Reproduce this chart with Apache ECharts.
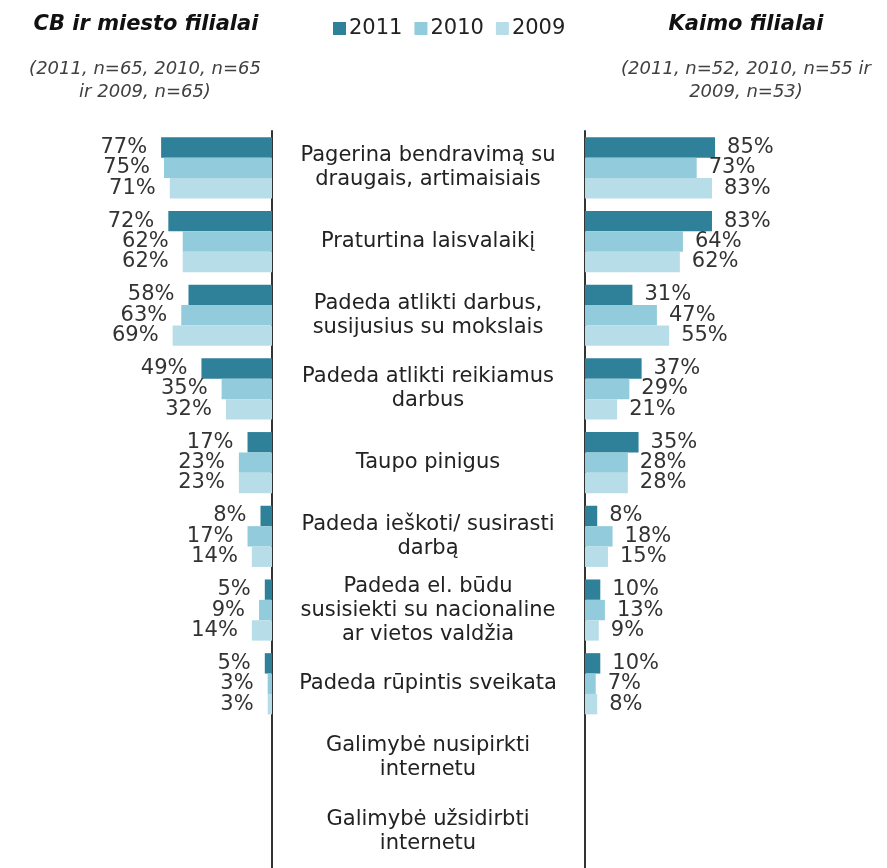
<!DOCTYPE html>
<html><head><meta charset="utf-8">
<script src="https://cdn.jsdelivr.net/npm/echarts@6/dist/echarts.min.js"></script>
<style>html,body{margin:0;padding:0;background:#fff}#c{width:887px;height:868px}</style>
</head><body><div id="c"></div>
<script>
const categories = [
  'Pagerina bendravimą su\ndraugais, artimaisiais',
  'Praturtina laisvalaikį',
  'Padeda atlikti darbus,\nsusijusius su mokslais',
  'Padeda atlikti reikiamus\ndarbus',
  'Taupo pinigus',
  'Padeda ieškoti/ susirasti\ndarbą',
  'Padeda el. būdu\nsusisiekti su nacionaline\nar vietos valdžia',
  'Padeda rūpintis sveikata',
  'Galimybė nusipirkti\ninternetu',
  'Galimybė užsidirbti\ninternetu'
];
const years = ['2011', '2010', '2009'];
const city2011 = [77, 72, 58, 49, 17, 8, 5, 5, null, null];
const city2010 = [75, 62, 63, 35, 23, 17, 9, 3, null, null];
const city2009 = [71, 62, 69, 32, 23, 14, 14, 3, null, null];
const rural2011 = [85, 83, 31, 37, 35, 8, 10, 10, null, null];
const rural2010 = [73, 64, 47, 29, 28, 18, 13, 7, null, null];
const rural2009 = [83, 62, 55, 21, 28, 15, 9, 8, null, null];
const colors = ['#2f8199', '#92cbdc', '#b7dee8'];

const FONT = 'DejaVu Sans';
const chart = echarts.init(document.getElementById('c'));
function barSeries(name, data, idx, color, left) {
  return {
    name: name, type: 'bar', data: data,
    xAxisIndex: idx, yAxisIndex: idx,
    barCategoryGap: '17%', barGap: '0%',
    itemStyle: { color: color },
    label: {
      show: true, position: left ? 'left' : 'right', distance: left ? 14 : 12,
      formatter: p => p.value == null ? '' : p.value + '%',
      fontFamily: FONT, fontSize: 21, color: '#333'
    },
    silent: true, animation: false
  };
}
const option = {
  animation: false,
  textStyle: { fontFamily: FONT },
  title: [
    { text: 'CB ir miesto filialai', left: 141, top: 9, textAlign: 'center',
      textStyle: { fontFamily: FONT, fontSize: 21, fontWeight: 'bold', fontStyle: 'italic', color: '#111' } },
    { text: '(2011, n=65, 2010, n=65\nir 2009, n=65)', left: 140, top: 53, textAlign: 'center',
      textStyle: { fontFamily: FONT, fontSize: 18, fontWeight: 'normal', fontStyle: 'italic', color: '#404040', lineHeight: 23 } },
    { text: 'Kaimo filialai', left: 741, top: 9, textAlign: 'center',
      textStyle: { fontFamily: FONT, fontSize: 21, fontWeight: 'bold', fontStyle: 'italic', color: '#111' } },
    { text: '(2011, n=52, 2010, n=55 ir\n2009, n=53)', left: 741, top: 53, textAlign: 'center',
      textStyle: { fontFamily: FONT, fontSize: 18, fontWeight: 'normal', fontStyle: 'italic', color: '#404040', lineHeight: 23 } }
  ],
  legend: {
    data: years, left: 328, top: 13, itemWidth: 13, itemHeight: 13, itemGap: 12,
    icon: 'rect', textStyle: { fontFamily: FONT, fontSize: 21, color: '#222', padding: [0,0,0,-2] }
  },
  grid: [
    { left: 128, width: 144, top: 131, height: 743 },
    { left: 585, width: 153, top: 131, height: 743 }
  ],
  xAxis: [
    { gridIndex: 0, type: 'value', min: 0, max: 100, inverse: true, show: false },
    { gridIndex: 1, type: 'value', min: 0, max: 100, show: false }
  ],
  yAxis: [
    { gridIndex: 0, type: 'category', data: categories, inverse: true, position: 'right',
      axisLine: { show: true, lineStyle: { color: '#333', width: 2 } }, axisTick: { show: false },
      axisLabel: { show: true, margin: 156, align: 'center', fontFamily: FONT, fontSize: 21, color: '#222', lineHeight: 24 } },
    { gridIndex: 1, type: 'category', data: categories, inverse: true, position: 'left',
      axisLine: { show: true, lineStyle: { color: '#333', width: 2 } }, axisTick: { show: false },
      axisLabel: { show: false } }
  ],
  series: [
    barSeries('2011', city2011, 0, colors[0], true),
    barSeries('2010', city2010, 0, colors[1], true),
    barSeries('2009', city2009, 0, colors[2], true),
    barSeries('2011', rural2011, 1, colors[0], false),
    barSeries('2010', rural2010, 1, colors[1], false),
    barSeries('2009', rural2009, 1, colors[2], false)
  ]
};
chart.setOption(option);
</script></body></html>
